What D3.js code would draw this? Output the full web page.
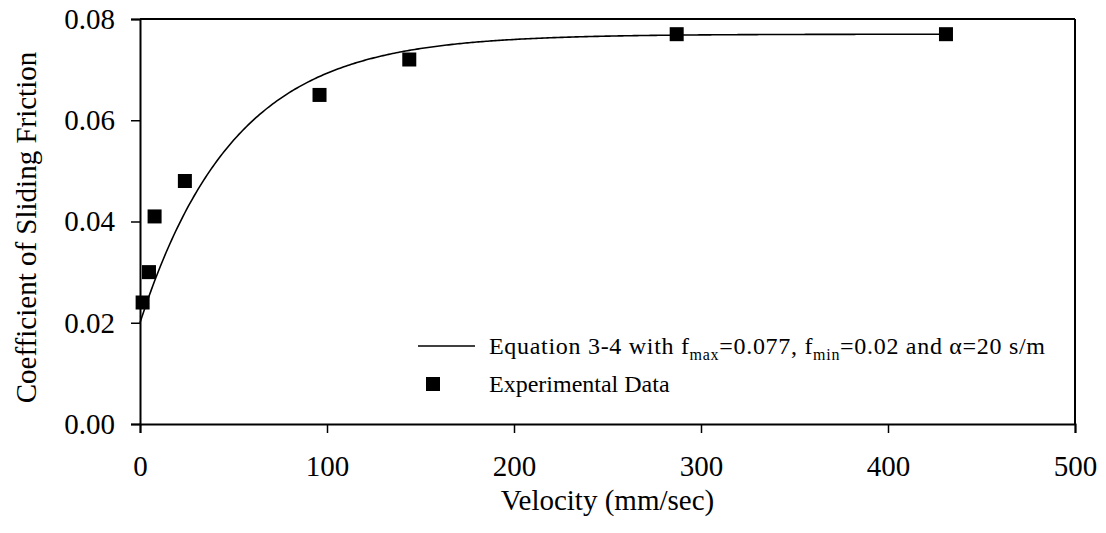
<!DOCTYPE html>
<html>
<head>
<meta charset="utf-8">
<script src="https://cdn.jsdelivr.net/npm/d3@7"></script>
<style>
  html, body { margin: 0; padding: 0; background: #fff; }
  svg { display: block; }
  text { font-family: "Liberation Serif", "Times New Roman", serif; fill: #000; }
</style>
</head>
<body>
<svg id="chart" width="1106" height="533"></svg>
<script>
// Measured sliding friction coefficients at each test velocity
const velocities = [1.4, 4.8, 7.8, 24, 96, 144, 287, 431];   // mm/sec
const friction   = [0.024, 0.030, 0.041, 0.048, 0.065, 0.072, 0.077, 0.077];

// Equation 3-4 parameters: f = fMax - (fMax - fMin) * exp(-alpha * v)
const fMax = 0.077;
const fMin = 0.02;
const alpha = 20;          // s/m
const curveEnd = 431;      // mm/sec, last measured velocity

const xTicks = [0, 100, 200, 300, 400, 500];
const yTicks = [0.00, 0.02, 0.04, 0.06, 0.08];

const svg = d3.select("#chart");
const plotLeft = 140, plotRight = 1075, plotTop = 19, plotBottom = 424;

const x = d3.scaleLinear().domain([0, 500]).range([plotLeft, plotRight]);
const y = d3.scaleLinear().domain([0, 0.08]).range([plotBottom, plotTop]);

// frame on top and right
svg.append("line").attr("x1", plotLeft).attr("x2", plotRight).attr("y1", plotTop).attr("y2", plotTop)
  .attr("stroke", "#000").attr("stroke-width", 2);
svg.append("line").attr("x1", plotRight).attr("x2", plotRight).attr("y1", plotTop).attr("y2", plotBottom)
  .attr("stroke", "#000").attr("stroke-width", 2);

const xAxis = svg.append("g")
  .attr("transform", `translate(0,${plotBottom})`)
  .call(d3.axisBottom(x).tickValues(xTicks).tickSize(9).tickPadding(22).tickFormat(d3.format("d")));
const yAxis = svg.append("g")
  .attr("transform", `translate(${plotLeft},0)`)
  .call(d3.axisLeft(y).tickValues(yTicks).tickSize(9).tickPadding(16).tickFormat(d3.format(".2f")));

[xAxis, yAxis].forEach(g => {
  g.select(".domain").attr("stroke", "#000").attr("stroke-width", 2);
  g.selectAll(".tick line").attr("stroke", "#000").attr("stroke-width", 1.5);
  g.selectAll(".tick text").style("font-family", '"Liberation Serif", serif')
    .style("font-size", "29px").attr("fill", "#000");
});
xAxis.selectAll(".tick text").attr("dy", "0.71em");

// axis titles
svg.append("text").attr("x", (plotLeft + plotRight) / 2).attr("y", 510)
  .attr("text-anchor", "middle").style("font-size", "29px").text("Velocity (mm/sec)");
svg.append("text").attr("transform", `translate(36,${(plotTop + plotBottom) / 2 + 6}) rotate(-90)`)
  .attr("text-anchor", "middle").style("font-size", "29px").text("Coefficient of Sliding Friction");

// fitted curve
const curveV = d3.range(0, curveEnd + 0.5, 1);
const curve = d3.line()
  .x(v => x(v))
  .y(v => y(fMax - (fMax - fMin) * Math.exp(-alpha * v / 1000)));
svg.append("path").datum(curveV).attr("d", curve)
  .attr("fill", "none").attr("stroke", "#000").attr("stroke-width", 1.6);

// experimental points
const sq = 14;
svg.append("g").selectAll("rect").data(velocities.map((v, i) => [v, friction[i]])).join("rect")
  .attr("x", d => x(d[0]) - sq / 2).attr("y", d => y(d[1]) - sq / 2)
  .attr("width", sq).attr("height", sq).attr("fill", "#000");

// legend
const lg = svg.append("g");
lg.append("line").attr("x1", 418).attr("x2", 475).attr("y1", 346).attr("y2", 346)
  .attr("stroke", "#000").attr("stroke-width", 1.6);
const t1 = lg.append("text").attr("x", 489).attr("y", 354)
  .style("font-size", "24px").style("letter-spacing", "0.7px");
t1.append("tspan").text("Equation 3-4 with f");
t1.append("tspan").attr("dy", 6).style("font-size", "16px").text("max");
t1.append("tspan").attr("dy", -6).text("=0.077, f");
t1.append("tspan").attr("dy", 6).style("font-size", "16px").text("min");
t1.append("tspan").attr("dy", -6).text("=0.02 and \u03b1=20 s/m");
lg.append("rect").attr("x", 433 - sq / 2).attr("y", 384 - sq / 2).attr("width", sq).attr("height", sq).attr("fill", "#000");
lg.append("text").attr("x", 489).attr("y", 392).style("font-size", "24px").text("Experimental Data");
</script>
</body>
</html>
